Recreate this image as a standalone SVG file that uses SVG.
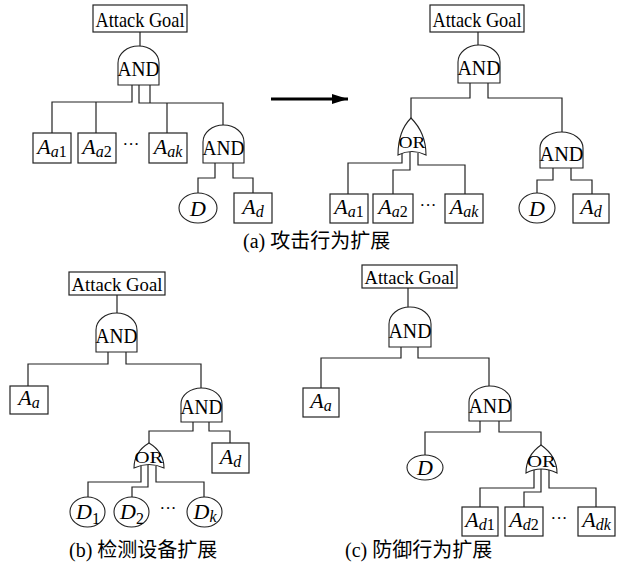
<svg xmlns="http://www.w3.org/2000/svg" width="620" height="569" viewBox="0 0 620 569">
<style>
text { font-family: "Liberation Serif", "Times New Roman", serif; fill: #000; }
.box { fill: #fff; stroke: #222; stroke-width: 1.2; }
.gate { fill: #fff; stroke: #222; stroke-width: 1.1; }
.ell { fill: #fff; stroke: #222; stroke-width: 1.1; }
.conn path { fill: none; stroke: #222; stroke-width: 1.2; }
.ag { font-size: 21px; text-anchor: middle; }
.ag2 { font-size: 19px; text-anchor: middle; }
.and { font-size: 20px; text-anchor: middle; }
.or { font-size: 17px; text-anchor: middle; }
.lbl { font-size: 22px; text-anchor: middle; }
.it { font-style: italic; }
.sub { font-size: 16px; }
.dots { font-size: 17px; text-anchor: middle; }
.cap { font-size: 20px; font-family: "Liberation Serif", "Noto Sans CJK SC", serif; }
</style>
<defs>
<marker id="ah" viewBox="0 0 16 10" refX="16" refY="5" markerWidth="16" markerHeight="10" markerUnits="userSpaceOnUse" orient="auto">
<path d="M0,0 L16,5 L0,10 Z" fill="#000"/>
</marker>
</defs>

<!-- Connectors -->
<g id="connectors" class="conn">
<!-- (a) left -->
<path d="M140,32 V46"/>
<path d="M132,85 V102 H52 V133"/>
<path d="M96,102 V133"/>
<path d="M139,85 V103 H223 V125"/>
<path d="M150,85 V103"/>
<path d="M167,103 V133"/>
<path d="M215,163 V178 H198 V193"/>
<path d="M233,163 V178 H253 V193"/>
<!-- arrow -->
<path d="M271,99 H348" marker-end="url(#ah)" style="stroke:#000;stroke-width:3"/>
<!-- (a) right -->
<path d="M478,32 V45"/>
<path d="M470,83 V98 H411 V118"/>
<path d="M488,83 V98 H562 V132"/>
<path d="M402,153 V163 H348 V194"/>
<path d="M410,152 V170 H393 V194"/>
<path d="M418,153 V165 H465 V194"/>
<path d="M553,168 V180 H537 V193"/>
<path d="M571,168 V180 H592 V194"/>
<!-- (b) -->
<path d="M117,295 V313"/>
<path d="M108,352 V364 H28 V386"/>
<path d="M126,352 V364 H201 V388"/>
<path d="M193,422 V431 H149 V443"/>
<path d="M209,422 V431 H230 V443"/>
<path d="M141,466 V482 H88 V497"/>
<path d="M148,465 V487 H132 V497"/>
<path d="M156,466 V482 H204 V497"/>
<!-- (c) -->
<path d="M408,288 V307"/>
<path d="M401,347 V358 H321 V388"/>
<path d="M418,347 V358 H489 V386"/>
<path d="M480,421 V432 H425 V455"/>
<path d="M499,421 V432 H541 V445"/>
<path d="M534,470 V488 H480 V507"/>
<path d="M541,469 V492 H524 V507"/>
<path d="M549,470 V488 H596 V507"/>
</g>

<!-- ===== (a) left ===== -->
<g id="a-goal"><rect class="box" x="93" y="5" width="94" height="27"/><text class="ag" x="140" y="27" textLength="89" lengthAdjust="spacingAndGlyphs">Attack Goal</text></g>
<g id="a-and1"><path class="gate" d="M118,85 V63 A20.5,17 0 0 1 159,63 V85 Z"/><text class="and" x="138.5" y="76" textLength="42" lengthAdjust="spacingAndGlyphs">AND</text></g>
<g id="a-aa1"><rect class="box" x="33" y="133" width="38" height="30"/><text class="lbl" x="52" y="154"><tspan class="it">A</tspan><tspan class="sub" dy="3"><tspan class="it">a</tspan>1</tspan></text></g>
<g id="a-aa2"><rect class="box" x="78" y="133" width="38" height="30"/><text class="lbl" x="97" y="154"><tspan class="it">A</tspan><tspan class="sub" dy="3"><tspan class="it">a</tspan>2</tspan></text></g>
<g id="a-dots1"><text class="dots" x="131" y="150">···</text></g>
<g id="a-aak"><rect class="box" x="149" y="133" width="38" height="30"/><text class="lbl" x="168" y="154"><tspan class="it">A</tspan><tspan class="sub it" dy="3">ak</tspan></text></g>
<g id="a-and2"><path class="gate" d="M203,163 V142 A20.5,17 0 0 1 244,142 V163 Z"/><text class="and" x="223.5" y="155" textLength="42" lengthAdjust="spacingAndGlyphs">AND</text></g>
<g id="a-d"><ellipse class="ell" cx="198" cy="208" rx="19" ry="15"/><text class="lbl it" x="198" y="216">D</text></g>
<g id="a-ad"><rect class="box" x="234" y="193" width="38" height="30"/><text class="lbl" x="253" y="214"><tspan class="it">A</tspan><tspan class="sub it" dy="3">d</tspan></text></g>

<!-- ===== (a) right ===== -->
<g id="ar-goal"><rect class="box" x="430" y="5" width="94" height="27"/><text class="ag" x="477" y="27" textLength="89" lengthAdjust="spacingAndGlyphs">Attack Goal</text></g>
<g id="ar-and1"><path class="gate" d="M458,83 V62 A21,17 0 0 1 500,62 V83 Z"/><text class="and" x="479" y="75" textLength="43" lengthAdjust="spacingAndGlyphs">AND</text></g>
<g id="ar-or"><path class="gate" d="M398,155 C398,140 402,127 411,118 C420,127 426,140 426,155 Q412,148 398,155 Z"/><text class="or" x="412" y="148" textLength="27" lengthAdjust="spacingAndGlyphs">OR</text></g>
<g id="ar-aa1"><rect class="box" x="330" y="194" width="38" height="29"/><text class="lbl" x="349" y="214"><tspan class="it">A</tspan><tspan class="sub" dy="3"><tspan class="it">a</tspan>1</tspan></text></g>
<g id="ar-aa2"><rect class="box" x="373" y="194" width="40" height="29"/><text class="lbl" x="393" y="214"><tspan class="it">A</tspan><tspan class="sub" dy="3"><tspan class="it">a</tspan>2</tspan></text></g>
<g id="ar-dots"><text class="dots" x="428" y="211">···</text></g>
<g id="ar-aak"><rect class="box" x="445" y="194" width="38" height="29"/><text class="lbl" x="464" y="214"><tspan class="it">A</tspan><tspan class="sub it" dy="3">ak</tspan></text></g>
<g id="ar-and2"><path class="gate" d="M540,168 V148 A21.5,16 0 0 1 583,148 V168 Z"/><text class="and" x="561.5" y="161" textLength="44" lengthAdjust="spacingAndGlyphs">AND</text></g>
<g id="ar-d"><ellipse class="ell" cx="537" cy="208" rx="18" ry="15"/><text class="lbl it" x="537" y="216">D</text></g>
<g id="ar-ad"><rect class="box" x="573" y="194" width="36" height="29"/><text class="lbl" x="591" y="214"><tspan class="it">A</tspan><tspan class="sub it" dy="3">d</tspan></text></g>

<g id="cap-a"><text class="cap" x="243" y="248">(a) 攻击行为扩展</text></g>

<!-- ===== (b) ===== -->
<g id="b-goal"><rect class="box" x="69" y="272" width="96" height="23"/><text class="ag2" x="117" y="291" textLength="91" lengthAdjust="spacingAndGlyphs">Attack Goal</text></g>
<g id="b-and1"><path class="gate" d="M96,352 V330 A20.5,17 0 0 1 137,330 V352 Z"/><text class="and" x="116.5" y="343" textLength="42" lengthAdjust="spacingAndGlyphs">AND</text></g>
<g id="b-aa"><rect class="box" x="10" y="386" width="38" height="28"/><text class="lbl" x="29" y="405"><tspan class="it">A</tspan><tspan class="sub it" dy="3">a</tspan></text></g>
<g id="b-and2"><path class="gate" d="M181,422 V404 A20.5,16 0 0 1 222,404 V422 Z"/><text class="and" x="201.5" y="414" textLength="42" lengthAdjust="spacingAndGlyphs">AND</text></g>
<g id="b-or"><path class="gate" d="M134,468 C134,458 139,449 149,443 C159,449 164,458 164,468 Q149,461 134,468 Z"/><text class="or" x="149" y="463" textLength="29" lengthAdjust="spacingAndGlyphs">OR</text></g>
<g id="b-ad"><rect class="box" x="212" y="443" width="37" height="30"/><text class="lbl" x="230.5" y="464"><tspan class="it">A</tspan><tspan class="sub it" dy="3">d</tspan></text></g>
<g id="b-d1"><ellipse class="ell" cx="87.5" cy="512" rx="17.5" ry="15"/><text class="lbl" x="88" y="519"><tspan class="it">D</tspan><tspan class="sub" dy="5">1</tspan></text></g>
<g id="b-d2"><ellipse class="ell" cx="131.5" cy="512" rx="17.5" ry="15"/><text class="lbl" x="132" y="519"><tspan class="it">D</tspan><tspan class="sub" dy="5">2</tspan></text></g>
<g id="b-dots"><text class="dots" x="168" y="514">···</text></g>
<g id="b-dk"><ellipse class="ell" cx="204.5" cy="512" rx="17.5" ry="15"/><text class="lbl" x="205" y="519"><tspan class="it">D</tspan><tspan class="sub it" dy="3">k</tspan></text></g>
<g id="cap-b"><text class="cap" x="69" y="557">(b) 检测设备扩展</text></g>

<!-- ===== (c) ===== -->
<g id="c-goal"><rect class="box" x="362" y="265" width="95" height="23"/><text class="ag2" x="409.5" y="284" textLength="90" lengthAdjust="spacingAndGlyphs">Attack Goal</text></g>
<g id="c-and1"><path class="gate" d="M389,347 V324 A21,17 0 0 1 431,324 V347 Z"/><text class="and" x="410" y="338" textLength="43" lengthAdjust="spacingAndGlyphs">AND</text></g>
<g id="c-aa"><rect class="box" x="303" y="388" width="36" height="29"/><text class="lbl" x="321" y="408"><tspan class="it">A</tspan><tspan class="sub it" dy="3">a</tspan></text></g>
<g id="c-and2"><path class="gate" d="M469,421 V402 A21,16 0 0 1 511,402 V421 Z"/><text class="and" x="490" y="413" textLength="43" lengthAdjust="spacingAndGlyphs">AND</text></g>
<g id="c-d"><ellipse class="ell" cx="425" cy="467.5" rx="18" ry="12.5"/><text class="lbl it" x="425" y="475">D</text></g>
<g id="c-or"><path class="gate" d="M526,473 C526,462 531,452 541,445 C551,452 557,462 557,473 Q541,465 526,473 Z"/><text class="or" x="541.5" y="467" textLength="29" lengthAdjust="spacingAndGlyphs">OR</text></g>
<g id="c-ad1"><rect class="box" x="462" y="507" width="36" height="29"/><text class="lbl" x="480" y="527"><tspan class="it">A</tspan><tspan class="sub" dy="3"><tspan class="it">d</tspan>1</tspan></text></g>
<g id="c-ad2"><rect class="box" x="505" y="507" width="38" height="29"/><text class="lbl" x="524" y="527"><tspan class="it">A</tspan><tspan class="sub" dy="3"><tspan class="it">d</tspan>2</tspan></text></g>
<g id="c-dots"><text class="dots" x="559" y="524">···</text></g>
<g id="c-adk"><rect class="box" x="578" y="507" width="37" height="29"/><text class="lbl" x="596.5" y="527"><tspan class="it">A</tspan><tspan class="sub it" dy="3">dk</tspan></text></g>
<g id="cap-c"><text class="cap" x="345" y="557">(c) 防御行为扩展</text></g>
</svg>
